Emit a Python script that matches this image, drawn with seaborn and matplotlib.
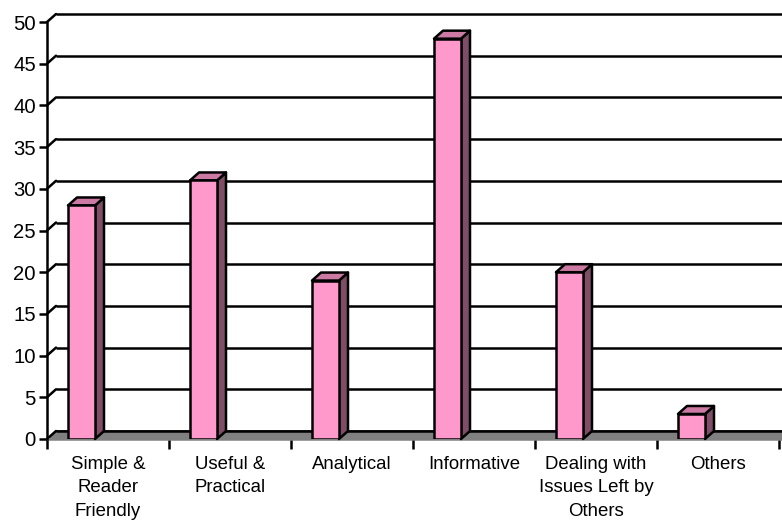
import matplotlib
matplotlib.use("Agg")
import matplotlib.pyplot as plt
import matplotlib.transforms as mtrans
from matplotlib.patches import Polygon
import seaborn as sns

categories = ["Simple &\nReader\nFriendly", "Useful &\nPractical", "Analytical",
              "Informative", "Dealing with\nIssues Left by\nOthers", "Others"]
values = [28, 31, 19, 48, 20, 3]
y_ticks = list(range(0, 55, 5))

FACE = "#FF99CC"
SIDE = "#804D66"
TOP = "#CC7AA3"
FLOOR = "#808080"
DEPTH_X, DEPTH_Y = 9, 8   # extrusion in pixels
W, H = 782, 521
LW = 1.8

sns.set_theme(style="white")
plt.rcParams["font.family"] = ["Liberation Sans", "DejaVu Sans"]

fig = plt.figure(figsize=(W / 100, H / 100), dpi=100)
# axes rectangle in figure pixels: plot spans x 47..782, y 439..22 from the top
ax = fig.add_axes([47 / W, (H - 439) / H, (W - 47) / W, (439 - 22) / H])

STEP = 122
BAR_PX = 27
BAR_CENTRE = 34.5 / STEP  # bar sits left of the centre of its category slot
sns.barplot(x=list(range(len(values))), y=values, color=FACE, saturation=1,
            width=BAR_PX / STEP, edgecolor="black", linewidth=LW, ax=ax, zorder=5)
ax.set_xlim(-BAR_CENTRE, -BAR_CENTRE + (W - 47) / STEP)
ax.set_ylim(0, 50)

blend = mtrans.blended_transform_factory(ax.transAxes, ax.transData)
blend_back = blend + mtrans.ScaledTranslation(DEPTH_X / 100, DEPTH_Y / 100, fig.dpi_scale_trans)
off_px = DEPTH_X / (W - 47)
dy = DEPTH_Y * 50 / (439 - 22)

# back-wall gridlines and their diagonal links to the value axis
for v in y_ticks:
    ax.plot([0, 1], [v, v], transform=blend_back, color="black", lw=LW,
            solid_capstyle="butt", clip_on=False, zorder=2)
    ax.plot([0, off_px], [v, v + dy], transform=blend,
            color="black", lw=LW, clip_on=False, zorder=3)

# grey floor
ax.add_patch(Polygon([(0, 0), (off_px, dy), (1, dy), (1, 0)],
                     transform=blend, facecolor=FLOOR, edgecolor="none",
                     clip_on=True, zorder=2.5))
ax.plot([off_px, 1], [dy, dy], transform=blend,
        color="black", lw=LW, solid_capstyle="butt", zorder=3)

# extruded side and top of every bar
for bar in ax.containers[0]:
    x0, x1 = bar.get_x(), bar.get_x() + bar.get_width()
    h = bar.get_height()
    dx = DEPTH_X / STEP
    ax.add_patch(Polygon([(x1, 0), (x1 + dx, dy), (x1 + dx, h + dy), (x1, h)],
                         facecolor=SIDE, edgecolor="black", lw=LW, zorder=4,
                         joinstyle="round", clip_on=False))
    ax.add_patch(Polygon([(x0, h), (x0 + dx, h + dy), (x1 + dx, h + dy), (x1, h)],
                         facecolor=TOP, edgecolor="black", lw=LW, zorder=4,
                         joinstyle="round", clip_on=False))

for name, spine in ax.spines.items():
    spine.set_visible(name == "left")
spine = ax.spines["left"]
spine.set_color("black")
spine.set_linewidth(LW)
spine.set_zorder(6)
# bottom edge of the floor
ax.plot([0, 1], [0, 0], transform=blend, color=FLOOR, lw=LW, clip_on=False, zorder=3)

ax.set_yticks(y_ticks)
ax.tick_params(axis="y", length=6, width=LW, color="black", labelsize=14.6, pad=2,
               left=True, labelcolor="black")

# category boundaries carry ticks, slot centres carry the labels
n = len(values)
ax.set_xticks([-BAR_CENTRE + i for i in range(n + 1)])
ax.set_xticklabels([""] * (n + 1))
ax.set_xticks([-BAR_CENTRE + i + 0.5 for i in range(n)], minor=True)
ax.set_xticklabels(categories, minor=True, fontsize=13.4, linespacing=1.52)
ax.tick_params(axis="x", which="major", length=7.5, width=LW, color="black", bottom=True)
ax.tick_params(axis="x", which="minor", length=0, pad=12, labelcolor="black")
ax.set_xlabel("")
ax.set_ylabel("")

fig.savefig("out.png", dpi=100)
